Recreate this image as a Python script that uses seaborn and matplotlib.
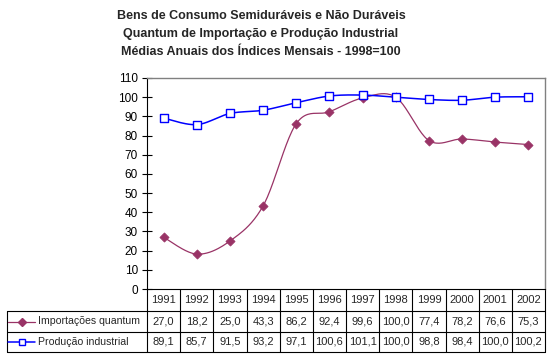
import numpy as np
import pandas as pd
import matplotlib
matplotlib.use("Agg")
import matplotlib.pyplot as plt
import seaborn as sns

anos = ["1991", "1992", "1993", "1994", "1995", "1996",
        "1997", "1998", "1999", "2000", "2001", "2002"]
importacoes = [27.0, 18.2, 25.0, 43.3, 86.2, 92.4, 99.6, 100.0, 77.4, 78.2, 76.6, 75.3]
producao = [89.1, 85.7, 91.5, 93.2, 97.1, 100.6, 101.1, 100.0, 98.8, 98.4, 100.0, 100.2]
series = ["Importações quantum", "Produção industrial"]
titulo = ["Bens de Consumo Semiduráveis e Não Duráveis",
          "Quantum de Importação e Produção Industrial",
          "Médias Anuais dos Índices Mensais - 1998=100"]

sns.set_style("white")
plt.rcParams["font.family"] = ["Liberation Sans", "DejaVu Sans"]

COR_IMP = "#993366"
COR_PROD = "#0000FF"
W, H = 550, 357


def suavizar(y, n=24):
    # bezier estilo Excel (equivale a Catmull-Rom)
    x = np.arange(len(y), dtype=float)
    y = np.asarray(y, dtype=float)
    px, py = [], []
    for i in range(len(y) - 1):
        a = max(i - 1, 0)
        b = min(i + 2, len(y) - 1)
        p0 = np.array([x[i], y[i]])
        p3 = np.array([x[i + 1], y[i + 1]])
        c1 = p0 + (p3 - np.array([x[a], y[a]])) / 6
        c2 = p3 - (np.array([x[b], y[b]]) - p0) / 6
        t = np.linspace(0, 1, n)[:, None]
        seg = ((1 - t) ** 3) * p0 + 3 * ((1 - t) ** 2) * t * c1 + 3 * (1 - t) * t ** 2 * c2 + t ** 3 * p3
        px.extend(seg[:, 0])
        py.extend(seg[:, 1])
    return px, py


fig = plt.figure(figsize=(W / 100, H / 100), dpi=100)
ax = fig.add_axes([147 / W, 1 - 289 / H, (545 - 147) / W, (289 - 78) / H])

xi, yi = suavizar(importacoes)
xp, yp = suavizar(producao)
curvas = pd.DataFrame({"x": xi + xp, "y": yi + yp,
                       "serie": [series[0]] * len(xi) + [series[1]] * len(xp)})
sns.lineplot(data=curvas, x="x", y="y", hue="serie", palette=[COR_IMP, COR_PROD],
             sort=False, estimator=None, legend=False, ax=ax)
for ln, lw in zip(ax.get_lines(), [0.9, 1.1]):
    ln.set_linewidth(lw)

pontos = pd.DataFrame({"x": np.arange(len(anos)), "imp": importacoes, "prod": producao})
sns.scatterplot(data=pontos, x="x", y="imp", marker="D", s=22, color=COR_IMP,
                edgecolor=COR_IMP, linewidth=0.5, ax=ax, zorder=4)
sns.scatterplot(data=pontos, x="x", y="prod", marker="s", s=30, facecolor="white",
                edgecolor=COR_PROD, linewidth=1.0, ax=ax, zorder=4)

ax.set_xlim(-0.5, len(anos) - 0.5)
ax.set_ylim(0, 110)
ax.set_yticks(range(0, 111, 10))
ax.set_xticks([])
ax.set_xlabel("")
ax.set_ylabel("")
ax.tick_params(axis="y", direction="inout", length=7, width=0.8, pad=3,
               labelsize=8.5, colors="black", left=True)
for lado in ["top", "right"]:
    ax.spines[lado].set_color("#808080")
    ax.spines[lado].set_linewidth(1.0)
for lado in ["left", "bottom"]:
    ax.spines[lado].set_color("black")
    ax.spines[lado].set_linewidth(0.8)

# tabela de dados
px_unit = (545 - 147) / len(anos)
def xdados(px):
    return -0.5 - (147 - px) / px_unit

alt = 289 - 78
linhas_y = [-22 / alt, -43 / alt, -63 / alt]
trans = ax.get_xaxis_transform()
x_esq = xdados(7)
x_dir = len(anos) - 0.5
for yy in linhas_y:
    ax.plot([x_esq, x_dir], [yy, yy], transform=trans, color="black", lw=0.8, clip_on=False)
for i in range(len(anos) + 1):
    ax.plot([i - 0.5, i - 0.5], [0, linhas_y[-1]], transform=trans, color="black",
            lw=0.8, clip_on=False)
ax.plot([x_esq, x_esq], [linhas_y[0], linhas_y[-1]], transform=trans, color="black",
        lw=0.8, clip_on=False)

def fmt(v):
    return f"{v:.1f}".replace(".", ",")

meio = [linhas_y[0] / 2, (linhas_y[0] + linhas_y[1]) / 2, (linhas_y[1] + linhas_y[2]) / 2]
for i, ano in enumerate(anos):
    ax.text(i, meio[0], ano, transform=trans, ha="center", va="center", fontsize=8)
    ax.text(i, meio[1], fmt(importacoes[i]), transform=trans, ha="center", va="center", fontsize=8)
    ax.text(i, meio[2], fmt(producao[i]), transform=trans, ha="center", va="center", fontsize=8)

# legenda na tabela
ax.plot([xdados(8), xdados(35)], [meio[1]] * 2, transform=trans, color=COR_IMP, lw=0.9, clip_on=False)
ax.plot([xdados(21.5)], [meio[1]], transform=trans, marker="D", ms=4.5, color=COR_IMP, clip_on=False)
ax.plot([xdados(8), xdados(35)], [meio[2]] * 2, transform=trans, color=COR_PROD, lw=1.1, clip_on=False)
ax.plot([xdados(21.5)], [meio[2]], transform=trans, marker="s", ms=5, mfc="white",
        mec=COR_PROD, mew=1.0, clip_on=False)
ax.text(xdados(38), meio[1], series[0], transform=trans, ha="left", va="center", fontsize=7.6)
ax.text(xdados(38), meio[2], series[1], transform=trans, ha="left", va="center", fontsize=7.6)

for k, (linha, ypx) in enumerate(zip(titulo, [16, 34, 52])):
    fig.text(261 / W, 1 - ypx / H, linha, ha="center", va="center",
             fontsize=9, fontweight="bold")

fig.savefig("out.png", dpi=100, facecolor="white")
